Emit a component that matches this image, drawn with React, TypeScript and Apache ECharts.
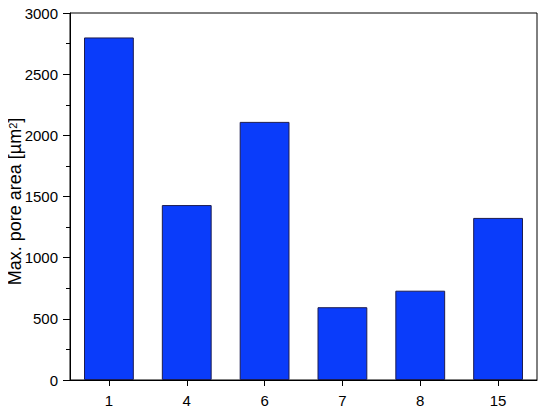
import React, { useEffect, useRef } from "react";
import * as echarts from "echarts";

const categories = ["1", "4", "6", "7", "8", "15"];
const poreArea = [2800, 1430, 2110, 595, 730, 1325];
const yTicks = { min: 0, max: 3000, interval: 500 };

export default function App() {
  const ref = useRef<HTMLDivElement>(null);
  useEffect(() => {
    if (!ref.current) return;
    const chart = echarts.init(ref.current, undefined, { renderer: "svg" });
    const font = "'Liberation Sans', Arial, sans-serif";
    chart.setOption({
      animation: false,
      backgroundColor: "#ffffff",
      grid: {
        left: 70,
        right: 13,
        top: 13,
        bottom: 34,
        show: true,
        borderColor: "#000000",
        borderWidth: 1,
        backgroundColor: "transparent",
        containLabel: false,
        outerBoundsMode: "none",
      },
      xAxis: {
        type: "category",
        data: categories,
        boundaryGap: true,
        axisLine: { show: true, lineStyle: { color: "#000", width: 1 } },
        axisTick: { show: true, alignWithLabel: true, length: 6, lineStyle: { color: "#000" } },
        axisLabel: { color: "#000", fontSize: 15, fontFamily: font, margin: 13 },
        splitLine: { show: false },
      },
      yAxis: {
        type: "value",
        min: yTicks.min,
        max: yTicks.max,
        interval: yTicks.interval,
        axisLine: { show: true, lineStyle: { color: "#000", width: 1 } },
        axisTick: { show: true, length: 7, lineStyle: { color: "#000" } },
        minorTick: { show: true, splitNumber: 2, length: 4, lineStyle: { color: "#000" } },
        axisLabel: {
          color: "#000",
          fontSize: 15,
          fontFamily: font,
          margin: 12,
          formatter: (v: number) => String(v),
        },
        splitLine: { show: false },
        name: "{a|Max. pore area [µm}{s|2}{a|]}",
        nameLocation: "middle",
        nameRotate: 90,
        nameGap: 45,
        nameMoveOverlap: false,
        nameTextStyle: {
          padding: [0, 10, 0, 0],
          rich: {
            a: { fontSize: 18, fontFamily: font, color: "#000", lineHeight: 20 },
            s: { fontSize: 11, fontFamily: font, color: "#000", verticalAlign: "bottom", padding: [0, 0, 7, 0] },
          },
        },
      },
      series: [
        {
          type: "bar",
          data: poreArea,
          barWidth: "64%",
          itemStyle: { color: "#0a3cfa", borderColor: "#1c1c50", borderWidth: 1 },
        },
      ],
    });
    return () => chart.dispose();
  }, []);
  return <div ref={ref} style={{ width: 550, height: 414, margin: -8 }} />;
}
